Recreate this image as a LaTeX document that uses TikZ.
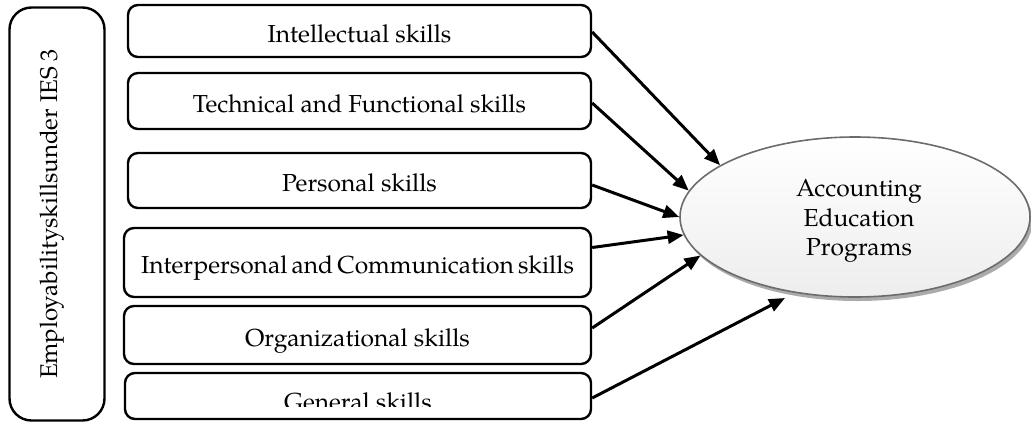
\documentclass[tikz,border=0pt]{standalone}
\usepackage{fontspec}
\setmainfont{TeX Gyre Pagella}
\usetikzlibrary{arrows.meta,shapes.geometric,shadows,calc}
\begin{document}
\begin{tikzpicture}[x=1pt,y=-1pt,
  txt/.style={font=\fontsize{24.6}{30}\selectfont},
  skill/.style={draw=black,line width=2.4pt,rounded corners=10pt,inner sep=0pt,
     minimum width=463pt,text height=22pt,text depth=0pt,txt},
  conn/.style={line width=3pt,-{Triangle[length=16pt,width=13pt]}},
]
\useasboundingbox (0,0) rectangle (1031,421);
% left vertical box
\node[draw=black,line width=2.4pt,rounded corners=22pt,rotate=90,minimum width=413pt,
  minimum height=95pt,inner sep=0pt,text height=17pt,text depth=17pt,
  font=\fontsize{24.2}{30}\selectfont] (side) at (57,214)
  {Employabilityskillsunder IES 3};
% skill boxes
\node[skill,minimum height=52pt] (b1) at (359.5,31) {Intellectual skills};
\node[skill,minimum height=56pt] (b2) at (359.5,101) {Technical and Functional skills};
\node[skill,minimum height=55pt] (b3) at (359.5,180.5) {Personal skills};
\node[skill,minimum height=69pt,minimum width=467pt] (b4) at (357.5,262.5) {Interpersonal\,and\,Communication\,skills};
\node[skill,minimum height=58pt,minimum width=467pt] (b5) at (357.5,335) {Organizational skills};
\node[skill,minimum height=46pt,minimum width=466pt] (b6) at (358,396) {};
\begin{scope}
  \clip (125,373) rectangle (591,406.5);
  \node[anchor=base,txt,inner sep=0pt] (t6) at (358,410) {General skills};
\end{scope}
% ellipse
\node[ellipse,draw=gray!85!black,line width=1.6pt,minimum width=350pt,minimum height=160pt,
  inner sep=0pt,top color=white,bottom color=gray!14,
  drop shadow={shadow xshift=2.5pt,shadow yshift=-4pt,fill=gray!80!black,opacity=0.55}] (ell) at (855,217) {};
\node[align=center,font=\fontsize{24.6}{29.5}\selectfont,inner sep=0pt] (ellt) at (859,221) {Accounting\\Education\\Programs};
\coordinate (tip6) at ($(ell.center)+(-70,81)$);
% arrows
\draw[conn] ([yshift=-1pt]b1.east) -- (ell.159);
\draw[conn] ([yshift=-2pt]b2.east) -- (ell.171.5);
\draw[conn] ([yshift=-4.5pt]b3.east) -- (ell.180.3);
\draw[conn] ([yshift=15pt]b4.east) -- (ell.186);
\draw[conn] ([yshift=7pt]b5.east) -- (ell.194.5);
\draw[conn] ([yshift=-2pt]b6.east) -- (tip6);
\end{tikzpicture}
\end{document}
